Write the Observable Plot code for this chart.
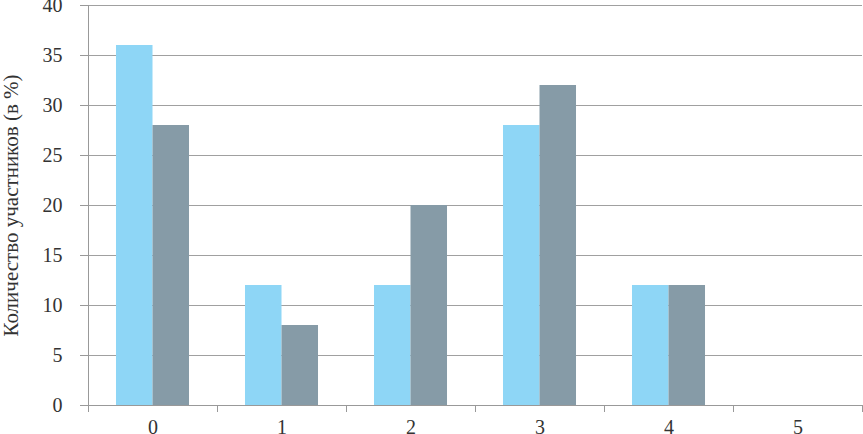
<!DOCTYPE html>
<html>
<head>
<meta charset="utf-8">
<script src="https://cdn.jsdelivr.net/npm/d3@7"></script>
<script src="https://cdn.jsdelivr.net/npm/@observablehq/plot@0.6"></script>
<style>
  html, body { margin: 0; padding: 0; background: #fff; }
</style>
</head>
<body>
<div id="chart"></div>
<script>
const categories = [0, 1, 2, 3, 4, 5];
const seriesA = [36, 12, 12, 28, 12, 0];
const seriesB = [28, 8, 20, 32, 12, 0];
const yTicks = [0, 5, 10, 15, 20, 25, 30, 35, 40];
const yLabel = "Количество участников (в %)";
const colors = ["#8ed6f6", "#869ba7"];
const serif = "Liberation Serif, DejaVu Serif, serif";

const barW = 0.283;
const data = categories.flatMap((c, i) => [
  {cat: c, s: "A", v: seriesA[i]},
  {cat: c, s: "B", v: seriesB[i]}
]);
const boundaries = [...categories.map(c => c - 0.5), categories[categories.length - 1] + 0.5];

const chart = Plot.plot({
  width: 863,
  height: 434,
  marginLeft: 88,
  marginRight: 1,
  marginTop: 5,
  marginBottom: 29,
  style: {fontFamily: serif, fontSize: "20px", color: "#333", background: "#fff"},
  x: {type: "linear", domain: [-0.5, 5.5]},
  y: {domain: [0, 40]},
  color: {domain: ["A", "B"], range: colors},
  marks: [
    Plot.gridY(yTicks, {stroke: "#a0a0a0", strokeOpacity: 1, strokeWidth: 1}),
    Plot.rectY(data, {
      x1: d => d.s === "A" ? d.cat - barW : d.cat,
      x2: d => d.s === "A" ? d.cat : d.cat + barW,
      y: "v",
      fill: "s"
    }),
    Plot.axisY(yTicks, {tickSize: 8, tickPadding: 18, stroke: "#999", fill: "#333", tickFormat: d => String(d), label: null, fontSize: 20}),
    Plot.axisY([], {tickSize: 0, label: yLabel, labelAnchor: "center", labelArrow: "none", labelOffset: 85, fontSize: 21, fill: "#333"}),
    Plot.axisX(categories, {tickSize: 0, tickPadding: 14, label: null, fill: "#333", fontSize: 20, tickFormat: d => String(d)}),
    Plot.axisX(boundaries, {tickSize: 7, tickFormat: () => "", label: null, stroke: "#999"}),
    Plot.ruleX([boundaries[0]], {stroke: "#999"}),
    Plot.ruleY([0], {stroke: "#999"})
  ]
});
document.getElementById("chart").appendChild(chart);
</script>
</body>
</html>
